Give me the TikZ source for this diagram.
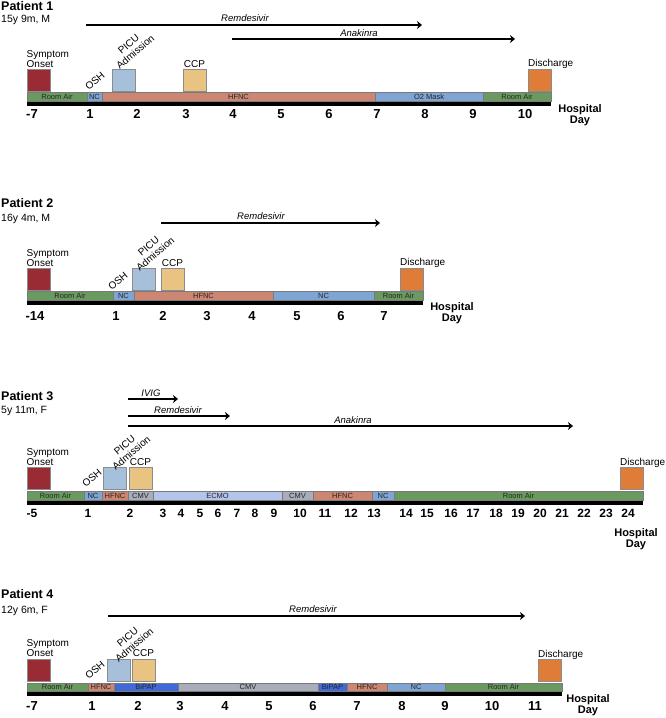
\documentclass[tikz,border=0pt]{standalone}
\usepackage{fontspec}
\setmainfont{Liberation Sans}
\usetikzlibrary{arrows.meta}
\definecolor{onset}{HTML}{992B34}
\definecolor{picu}{HTML}{A6BFDB}
\definecolor{ccp}{HTML}{E8C382}
\definecolor{disch}{HTML}{DF7C37}
\definecolor{roomair}{HTML}{6A9A5F}
\definecolor{nc}{HTML}{7EA5D3}
\definecolor{hfnc}{HTML}{CD8672}
\definecolor{cmv}{HTML}{A9ADB9}
\definecolor{ecmo}{HTML}{B5C4EA}
\definecolor{bipap}{HTML}{3F6AD8}
\definecolor{boxdraw}{HTML}{8C8C8C}
\definecolor{segdraw}{HTML}{7A7A7A}
\tikzset{
  ptitle/.style={font=\fontsize{12.5}{14}\bfseries\selectfont, anchor=base west, inner sep=0},
  psub/.style={font=\fontsize{10.5}{12}\selectfont, anchor=base west, inner sep=0},
  drug/.style={font=\fontsize{9.5}{11}\itshape\selectfont, inner sep=0},
  rx/.style={line width=1.8pt, -{Stealth[length=5pt,width=8pt,inset=1.5pt]}},
  evlab/.style={font=\fontsize{10}{10.5}\selectfont, inner sep=0},
  segtxt/.style={font=\fontsize{7.5}{8}\selectfont, text=black!85, inner sep=0},
  daylab/.style={font=\fontsize{13}{14}\bfseries\selectfont, anchor=base, inner sep=0},
  daysm/.style={font=\fontsize{12}{14}\bfseries\selectfont, anchor=base, inner sep=0},
  hday/.style={font=\fontsize{11}{12}\bfseries\selectfont, anchor=base, inner sep=0},
  axisline/.style={line width=3.5pt},
}
\newcommand\mkseg[6]{%
  \filldraw[fill=#5, draw=segdraw, line width=0.6pt] (#1,#3) rectangle (#2,#4);
  \node[segtxt] at ({(#1+#2)/2},{(#3+#4)/2}) {#6};}
\newcommand\mkbox[3]{%
  \filldraw[fill=#3, draw=boxdraw, line width=0.7pt] (#1,#2) rectangle ++(23,22);}
\begin{document}
\begin{tikzpicture}[x=1pt,y=-1pt]
\useasboundingbox (0,0) rectangle (666,718);

% ================= Patient 1 =================
\node[ptitle] (p1t) at (1,10) {Patient 1};
\node[psub] (p1s) at (1,22.5) {15y 9m, M};
\coordinate (p1r0) at (86,25); \coordinate (p1r1) at (422,25);
\draw[rx] (p1r0) -- (p1r1);
\node[drug] (p1rl) at (245,18) {Remdesivir};
\coordinate (p1a0) at (232,39); \coordinate (p1a1) at (515,39);
\draw[rx] (p1a0) -- (p1a1);
\node[drug] (p1al) at (359,33) {Anakinra};
\mkbox{27}{69}{onset}
\mkbox{112}{69}{picu}
\mkbox{183}{69}{ccp}
\mkbox{528}{69}{disch}
\node[evlab, anchor=base west] (p1so1) at (26.5,57) {Symptom};
\node[evlab, anchor=base west] (p1so2) at (26.5,67) {Onset};
\node[evlab, rotate=40] (p1osh) at (95,81) {OSH};
\node[evlab, rotate=40, align=center] (p1picu) at (132,48) {PICU\\Admission};
\node[evlab, anchor=base] (p1ccp) at (194.5,67) {CCP};
\node[evlab, anchor=base west] (p1dis) at (528,66) {Discharge};
\mkseg{27}{87}{92}{101}{roomair}{Room Air}
\mkseg{87}{102}{92}{101}{nc}{NC}
\mkseg{102}{375}{92}{101}{hfnc}{HFNC}
\mkseg{375}{483}{92}{101}{nc}{O2 Mask}
\mkseg{483}{551}{92}{101}{roomair}{Room Air}
\draw[axisline] (27,104) -- (551,104);
\foreach \d/\x in {-7/32,1/90,2/137,3/186,4/233,5/281,6/329,7/377,8/425,9/473,10/525}
  \node[daylab] (p1d\x) at (\x,118) {\d};
\node[hday] (p1h1) at (580,112) {Hospital};
\node[hday] (p1h2) at (580,123) {Day};

% ================= Patient 2 =================
\node[ptitle] (p2t) at (1,207) {Patient 2};
\node[psub] (p2s) at (1,221.5) {16y 4m, M};
\coordinate (p2r0) at (161,223); \coordinate (p2r1) at (380,223);
\draw[rx] (p2r0) -- (p2r1);
\node[drug] (p2rl) at (261,216) {Remdesivir};
\mkbox{27}{268}{onset}
\mkbox{132}{268}{picu}
\mkbox{161}{268}{ccp}
\mkbox{400}{268}{disch}
\node[evlab, anchor=base west] (p2so1) at (26.5,256) {Symptom};
\node[evlab, anchor=base west] (p2so2) at (26.5,266) {Onset};
\node[evlab, rotate=40] (p2osh) at (118,281) {OSH};
\node[evlab, rotate=40, align=center] (p2picu) at (152,250) {PICU\\Admission};
\node[evlab, anchor=base] (p2ccp) at (172.5,266) {CCP};
\node[evlab, anchor=base west] (p2dis) at (400,265) {Discharge};
\mkseg{27}{113}{291}{300}{roomair}{Room Air}
\mkseg{113}{134}{291}{300}{nc}{NC}
\mkseg{134}{273}{291}{300}{hfnc}{HFNC}
\mkseg{273}{374}{291}{300}{nc}{NC}
\mkseg{374}{423}{291}{300}{roomair}{Room Air}
\draw[axisline] (27,303) -- (423,303);
\foreach \d/\x in {-14/35,1/116,2/163,3/207,4/252,5/297,6/341,7/384}
  \node[daylab] (p2d\x) at (\x,320) {\d};
\node[hday] (p2h1) at (452,310) {Hospital};
\node[hday] (p2h2) at (452,321) {Day};

% ================= Patient 3 =================
\node[ptitle] (p3t) at (1,400) {Patient 3};
\node[psub] (p3s) at (1,413.5) {5y 11m, F};
\coordinate (p3i0) at (128,399); \coordinate (p3i1) at (178,399);
\draw[rx] (p3i0) -- (p3i1);
\node[drug] (p3il) at (151,393.5) {IVIG};
\coordinate (p3r0) at (128,416); \coordinate (p3r1) at (230,416);
\draw[rx] (p3r0) -- (p3r1);
\node[drug] (p3rl) at (178,410) {Remdesivir};
\coordinate (p3a0) at (128,426); \coordinate (p3a1) at (573,426);
\draw[rx] (p3a0) -- (p3a1);
\node[drug] (p3al) at (353,420) {Anakinra};
\mkbox{27}{467}{onset}
\mkbox{103}{467}{picu}
\mkbox{129}{467}{ccp}
\mkbox{620}{467}{disch}
\node[evlab, anchor=base west] (p3so1) at (26.5,455) {Symptom};
\node[evlab, anchor=base west] (p3so2) at (26.5,465) {Onset};
\node[evlab, rotate=40] (p3osh) at (92,478) {OSH};
\node[evlab, rotate=40, align=center] (p3picu) at (128,449) {PICU\\Admission};
\node[evlab, anchor=base] (p3ccp) at (140.5,465.5) {CCP};
\node[evlab, anchor=base west] (p3dis) at (620,465) {Discharge};
\mkseg{27}{84}{491}{500}{roomair}{Room Air}
\mkseg{84}{102}{491}{500}{nc}{NC}
\mkseg{102}{128}{491}{500}{hfnc}{HFNC}
\mkseg{128}{153}{491}{500}{cmv}{CMV}
\mkseg{153}{282}{491}{500}{ecmo}{ECMO}
\mkseg{282}{313}{491}{500}{cmv}{CMV}
\mkseg{313}{372}{491}{500}{hfnc}{HFNC}
\mkseg{372}{394}{491}{500}{nc}{NC}
\mkseg{394}{643}{491}{500}{roomair}{Room Air}
\draw[axisline] (27,503) -- (643,503);
\foreach \d/\x in {-5/32,1/88,2/130,3/163,4/181,5/200,6/218,7/237,8/255,9/274,10/300,11/325,12/351,13/374,14/406,15/427,16/451,17/473,18/496,19/518,20/540,21/562,22/584,23/606,24/628}
  \node[daysm] (p3d\x) at (\x,517) {\d};
\node[hday] (p3h1) at (636,536) {Hospital};
\node[hday] (p3h2) at (636,547) {Day};

% ================= Patient 4 =================
\node[ptitle] (p4t) at (1,598) {Patient 4};
\node[psub] (p4s) at (1,613) {12y 6m, F};
\coordinate (p4r0) at (108,616); \coordinate (p4r1) at (525,616);
\draw[rx] (p4r0) -- (p4r1);
\node[drug] (p4rl) at (313,609) {Remdesivir};
\mkbox{27}{659}{onset}
\mkbox{107}{659}{picu}
\mkbox{132}{659}{ccp}
\mkbox{538}{659}{disch}
\node[evlab, anchor=base west] (p4so1) at (26.5,646.5) {Symptom};
\node[evlab, anchor=base west] (p4so2) at (26.5,656.5) {Onset};
\node[evlab, rotate=40] (p4osh) at (95,670) {OSH};
\node[evlab, rotate=40, align=center] (p4picu) at (131,641) {PICU\\Admission};
\node[evlab, anchor=base] (p4ccp) at (143.5,656) {CCP};
\node[evlab, anchor=base west] (p4dis) at (538,657) {Discharge};
\mkseg{27}{88}{683}{691}{roomair}{Room Air}
\mkseg{88}{114}{683}{691}{hfnc}{HFNC}
\mkseg{114}{178}{683}{691}{bipap}{BiPAP}
\mkseg{178}{318}{683}{691}{cmv}{CMV}
\mkseg{318}{347}{683}{691}{bipap}{BiPAP}
\mkseg{347}{387}{683}{691}{hfnc}{HFNC}
\mkseg{387}{445}{683}{691}{nc}{NC}
\mkseg{445}{562}{683}{691}{roomair}{Room Air}
\draw[axisline] (27,694) -- (562,694);
\foreach \d/\x in {-7/32,1/92,2/138,3/180,4/225,5/269,6/313,7/357,8/402,9/445,10/492,11/535}
  \node[daylab] (p4d\x) at (\x,710) {\d};
\node[hday] (p4h1) at (588,702) {Hospital};
\node[hday] (p4h2) at (588,713) {Day};
\end{tikzpicture}
\end{document}
